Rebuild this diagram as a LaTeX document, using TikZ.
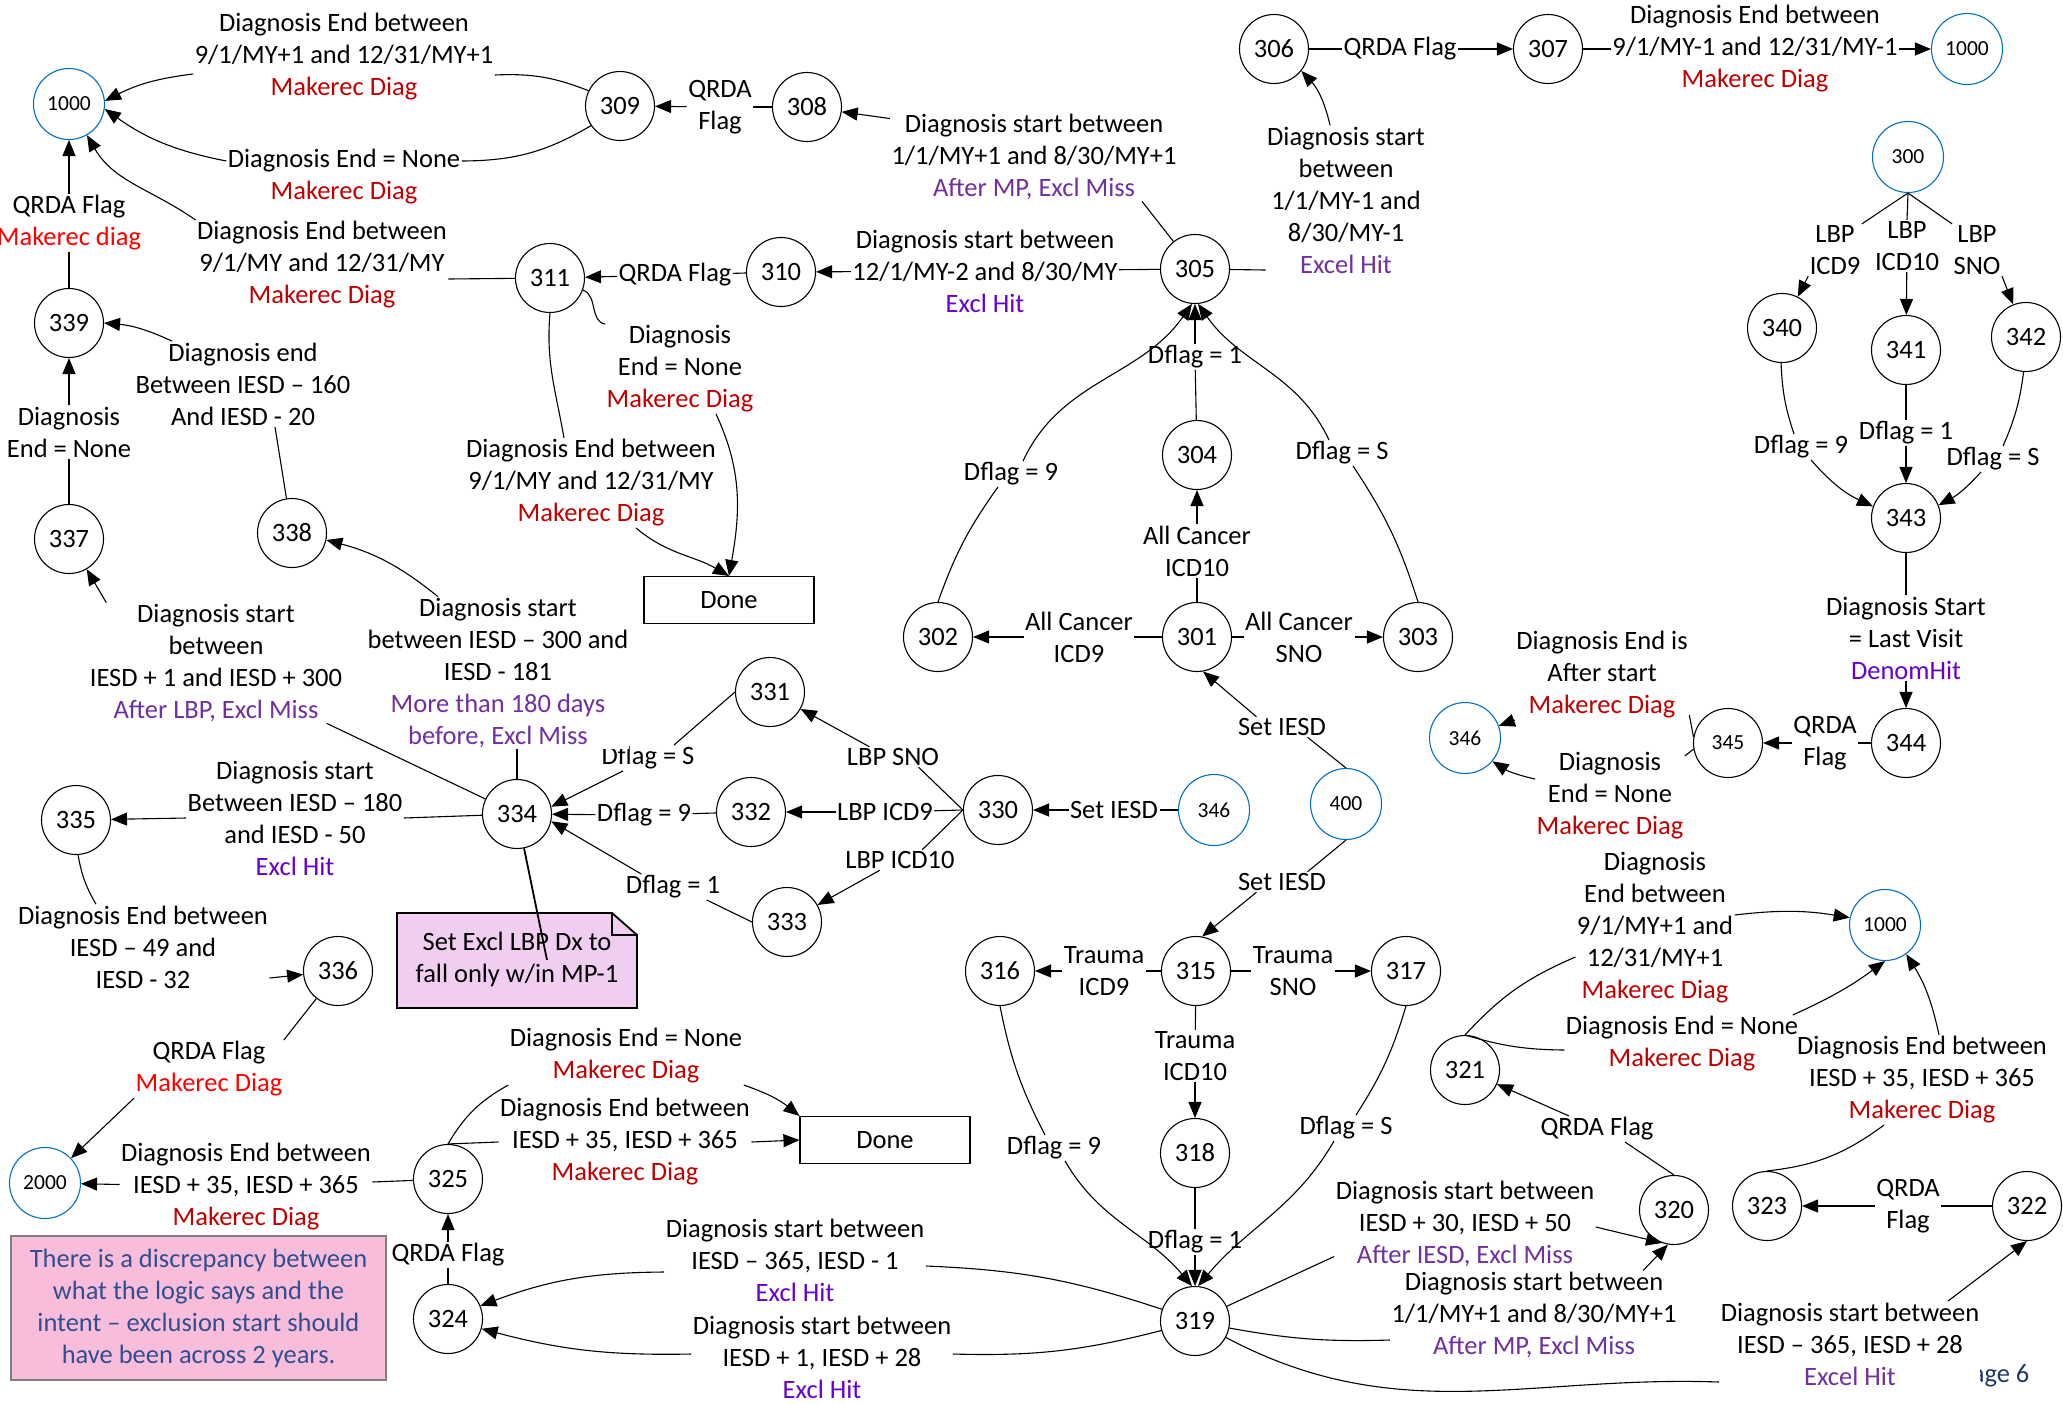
\documentclass[tikz,border=0pt]{standalone}
\usepackage{fontspec}
\setmainfont{Carlito}
\usetikzlibrary{arrows.meta}

\definecolor{mkred}{HTML}{C00000}
\definecolor{brightred}{HTML}{FF0000}
\definecolor{exmiss}{HTML}{7030A0}
\definecolor{exhit}{HTML}{6600CC}
\definecolor{stateblue}{HTML}{0070C0}
\definecolor{notepink}{HTML}{F9BDDC}
\definecolor{notelav}{HTML}{F0CEF0}
\definecolor{noteblue}{HTML}{2F4F8F}
\definecolor{pageblue}{HTML}{1F3864}

\newcommand{\lblsize}{\fontsize{26.5pt}{32pt}\selectfont}
\newcommand{\numsize}{\fontsize{21.5pt}{26pt}\selectfont}
\newcommand{\mkd}{\textcolor{mkred}{Makerec Diag}}
\newcommand{\exmiss}[1]{\textcolor{exmiss}{#1}}
\newcommand{\exhit}[1]{\textcolor{exhit}{#1}}

\tikzset{
  state/.style={circle, draw, minimum size=69pt, inner sep=0pt, font=\lblsize},
  bstate/.style={state, draw=stateblue, minimum size=71pt, font=\numsize},
  sstate/.style={state, font=\numsize},
  lbl/.style={align=center, fill=white, inner sep=1pt, font=\lblsize},
  donebox/.style={draw, minimum width=170pt, minimum height=47pt, font=\lblsize},
}

\begin{document}
\begin{tikzpicture}[x=1pt, y=-1pt, line width=1.1pt, >={Triangle[length=16pt,width=13pt]}]
\useasboundingbox (0,0) rectangle (2063,1403);

% states
\node[bstate] (n1000a) at (69,104) {1000};
\node[state] (n309) at (620,106) {309};
\node[state] (n308) at (807,107) {308};
\node[state] (n311) at (550,278) {311};
\node[state] (n310) at (781,272) {310};
\node[state] (n305) at (1195,269) {305};
\node[state] (n306) at (1274,49) {306};
\node[state] (n307) at (1548,49) {307};
\node[bstate] (n1000b) at (1967,49) {1000};
\node[bstate] (n300) at (1908,157) {300};
\node[state] (n340) at (1782,328) {340};
\node[state] (n341) at (1906,350) {341};
\node[state] (n342) at (2026,337) {342};
\node[state] (n343) at (1906,518) {343};
\node[state] (n344) at (1906,743) {344};
\node[sstate] (n345) at (1728,743) {345};
\node[bstate] (n346b) at (1465,738) {346};
\node[state] (n339) at (69,323) {339};
\node[state] (n337) at (69,539) {337};
\node[state] (n338) at (292,533) {338};
\node[state] (n304) at (1197,455) {304};
\node[state] (n301) at (1197,637) {301};
\node[state] (n302) at (938,637) {302};
\node[state] (n303) at (1418,637) {303};
\node[bstate] (n400) at (1346,804) {400};
\node[state] (n334) at (517,814) {334};
\node[state] (n335) at (76,820) {335};
\node[state] (n331) at (770,692) {331};
\node[state] (n332) at (751,812) {332};
\node[state] (n333) at (787,922) {333};
\node[state] (n330) at (998,810) {330};
\node[bstate] (n346a) at (1214,810) {346};
\node[state] (n336) at (338,971) {336};
\node[bstate] (n2000) at (45,1183) {2000};
\node[state] (n325) at (448,1179) {325};
\node[state] (n324) at (448,1319) {324};
\node[state] (n316) at (1000,971) {316};
\node[state] (n315) at (1196,971) {315};
\node[state] (n317) at (1406,971) {317};
\node[state] (n318) at (1195,1153) {318};
\node[state] (n319) at (1195,1321) {319};
\node[state] (n320) at (1674,1210) {320};
\node[state] (n321) at (1465,1070) {321};
\node[state] (n323) at (1767,1206) {323};
\node[state] (n322) at (2027,1206) {322};
\node[bstate] (n1000c) at (1885,925) {1000};

\node[donebox] (done1) at (729,600) {Done};
\node[donebox] (done2) at (885,1140) {Done};

% notes
\draw[fill=notelav, line width=1.8pt] (397,913) -- (612,913) -- (637,935) -- (637,1008) -- (397,1008) -- cycle;
\draw[line width=1.8pt] (612,913) -- (612,935) -- (637,935);
\node[align=center, font=\lblsize] (lbpnote) at (517,959) {Set Excl LBP Dx to\\fall only w/in MP-1};
\node[draw=gray, fill=notepink, minimum width=375pt, minimum height=144pt, align=center, text=noteblue, font=\lblsize] (discrep) at (198.5,1308) {There is a discrepancy between\\what the logic says and the\\intent – exclusion start should\\have been across 2 years.};
\node[text=pageblue, font=\lblsize, inner sep=0pt] (pg) at (1994,1376) {Page 6};

% edge texts
\node[lbl] (l309a) at (344,57) {Diagnosis End between\\9/1/MY+1 and 12/31/MY+1\\\mkd};
\node[lbl] (l309b) at (344,177) {Diagnosis End = None\\\mkd};
\node[lbl] (q308) at (720,107) {QRDA\\Flag};
\node[lbl] (l305a) at (1034,157) {Diagnosis start between\\1/1/MY+1 and 8/30/MY+1\\\exmiss{After MP, Excl Miss}};
\node[lbl] (l305b) at (985,271) {Diagnosis start between\\12/1/MY-2 and 8/30/MY\\\exhit{Excl Hit}};
\node[lbl] (q310) at (675,275) {QRDA Flag};
\node[lbl] (l311a) at (322,265) {Diagnosis End between\\9/1/MY and 12/31/MY\\\mkd};
\node[lbl] (q339) at (69,223) {QRDA Flag\\\textcolor{brightred}{Makerec diag}};
\node[lbl] (l337) at (69,432) {Diagnosis\\End = None};
\node[lbl] (l338a) at (243,384) {Diagnosis end\\Between IESD – 160\\And IESD - 20};
\node[lbl] (l311b) at (680,369) {Diagnosis\\End = None\\\mkd};
\node[lbl] (l311c) at (591,483) {Diagnosis End between\\9/1/MY and 12/31/MY\\\mkd};
\node[lbl] (l305c) at (1346,200) {Diagnosis start\\between\\1/1/MY-1 and\\8/30/MY-1\\\exmiss{Excel Hit}};
\node[lbl] (q306) at (1400,49) {QRDA Flag};
\node[lbl] (l307) at (1755,49) {Diagnosis End between\\9/1/MY-1 and 12/31/MY-1\\\mkd};
\node[lbl] (b300a) at (1835,250) {LBP\\ICD9};
\node[lbl] (b300b) at (1907,246) {LBP\\ICD10};
\node[lbl] (b300c) at (1977,250) {LBP\\SNO};
\node[lbl] (f340) at (1801,447) {Dflag = 9};
\node[lbl] (f341) at (1906,433) {Dflag = 1};
\node[lbl] (f342) at (1993,459) {Dflag = S};
\node[lbl] (l343) at (1906,638) {Diagnosis Start\\= Last Visit\\\exhit{DenomHit}};
\node[lbl] (q344) at (1825,743) {QRDA\\Flag};
\node[lbl] (l345a) at (1602,675) {Diagnosis End is\\After start\\\mkd};
\node[lbl] (l345b) at (1610,796) {Diagnosis\\End = None\\\mkd};
\node[lbl] (f302) at (1011,474) {Dflag = 9};
\node[lbl] (f304) at (1195,357) {Dflag = 1};
\node[lbl] (f303) at (1342,453) {Dflag = S};
\node[lbl] (c304) at (1197,551) {All Cancer\\ICD10};
\node[lbl] (c302) at (1079,637) {All Cancer\\ICD9};
\node[lbl] (c303) at (1299,637) {All Cancer\\SNO};
\node[lbl] (s301) at (1282,727) {Set IESD};
\node[lbl] (s315) at (1282,882) {Set IESD};
\node[lbl] (s330) at (1114,810) {Set IESD};
\node[lbl] (b331) at (893,757) {LBP SNO};
\node[lbl] (b332) at (885,812) {LBP ICD9};
\node[lbl] (b333) at (900,860) {LBP ICD10};
\node[lbl] (f331) at (648,758) {Dflag = S};
\node[lbl] (f332) at (644,815) {Dflag = 9};
\node[lbl] (f333) at (673,887) {Dflag = 1};
\node[lbl] (l337b) at (216,663) {Diagnosis start\\between\\IESD + 1 and IESD + 300\\\exmiss{After LBP, Excl Miss}};
\node[lbl] (l338b) at (498,673) {Diagnosis start\\between IESD – 300 and\\IESD - 181\\\exmiss{More than 180 days}\\\exmiss{before, Excl Miss}};
\node[lbl] (l335a) at (295,818) {Diagnosis start\\Between IESD – 180\\and IESD - 50\\\exhit{Excl Hit}};
\node[lbl] (l336) at (143,947) {Diagnosis End between\\IESD – 49 and\\IESD - 32};
\node[lbl] (q336) at (209,1069) {QRDA Flag\\\textcolor{brightred}{Makerec Diag}};
\node[lbl] (l2000) at (246,1187) {Diagnosis End between\\IESD + 35, IESD + 365\\\mkd};
\node[lbl] (q324) at (448,1255) {QRDA Flag};
\node[lbl] (l325a) at (626,1056) {Diagnosis End = None\\\mkd};
\node[lbl] (l325b) at (625,1142) {Diagnosis End between\\IESD + 35, IESD + 365\\\mkd};
\node[lbl] (l324a) at (795,1260) {Diagnosis start between\\IESD – 365, IESD - 1\\\exhit{Excl Hit}};
\node[lbl] (l324b) at (822,1357) {Diagnosis start between\\IESD + 1, IESD + 28\\\exhit{Excl Hit}};
\node[lbl] (t316) at (1104,971) {Trauma\\ICD9};
\node[lbl] (t317) at (1293,971) {Trauma\\SNO};
\node[lbl] (t318) at (1195,1056) {Trauma\\ICD10};
\node[lbl] (f316) at (1054,1148) {Dflag = 9};
\node[lbl] (f318) at (1195,1242) {Dflag = 1};
\node[lbl] (f317) at (1346,1128) {Dflag = S};
\node[lbl] (l320a) at (1465,1224) {Diagnosis start between\\IESD + 30, IESD + 50\\\exmiss{After IESD, Excl Miss}};
\node[lbl] (l320b) at (1534,1315) {Diagnosis start between\\1/1/MY+1 and 8/30/MY+1\\\exmiss{After MP, Excl Miss}};
\node[lbl] (l322) at (1850,1344) {Diagnosis start between\\IESD – 365, IESD + 28\\\exmiss{Excel Hit}};
\node[lbl] (q320) at (1597,1129) {QRDA Flag};
\node[lbl] (q322) at (1908,1206) {QRDA\\Flag};
\node[lbl] (l321a) at (1655,928) {Diagnosis\\End between\\9/1/MY+1 and\\12/31/MY+1\\\mkd};
\node[lbl] (l321b) at (1682,1044) {Diagnosis End = None\\\mkd};
\node[lbl] (l323) at (1922,1080) {Diagnosis End between\\IESD + 35, IESD + 365\\\mkd};

% top left
\draw (n309) to[bend right=12] ([yshift=-18pt]l309a.east);
\draw[->] ([yshift=-17pt]l309a.west) to[bend right=10] (n1000a.5);
\draw (n309) to[bend left=15] ([yshift=16pt]l309b.east);
\draw[->] ([yshift=16pt]l309b.west) to[bend left=12] (n1000a.-8);
\draw (n311) -- ([yshift=-14pt]l311a.east);
\draw[->] (l311a.north west) to[out=145, in=-60] (n1000a.-60);
\draw (n339) -- (q339);
\draw[->] (q339) -- (n1000a);
\draw (n337) -- (l337);
\draw[->] (l337) -- (n339);
\draw (n338) -- ([xshift=32pt]l338a.south);
\draw[->] ([xshift=38pt]l338a.north west) to[bend right=10] (n339);
\draw (n308) -- (q308);
\draw[->] (q308) -- (n309);
\draw (n305) -- ([xshift=-36pt]l305a.south east);
\draw[->] ([yshift=-6pt]l305a.north west) -- (n308);
\draw (n305) -- (l305b);
\draw[->] (l305b) -- (n310);
\draw (n310) -- (q310);
\draw[->] (q310) -- (n311);
\draw (n311) to[out=-20, in=170] (l311b.north west);
\draw[->] ([xshift=36pt]l311b.south) to[out=-65, in=80] (done1.north);
\draw (n311.south) to[out=-95, in=100] ([xshift=-27pt]l311c.north);
\draw[->] ([xshift=45pt]l311c.south) to[out=-40, in=150] (done1.north);

% top right
\draw (n305) -- ([yshift=-70pt]l305c.west);
\draw[->] ([xshift=-16pt]l305c.north) to[bend right=15] (n306);
\draw (n306) -- (q306);
\draw[->] (q306) -- (n307);
\draw (n307) -- (l307);
\draw[->] (l307) -- (n1000b);
\draw (n300.south) -- (b300a.north east);
\draw[->] (b300a.south west) -- (n340);
\draw (n300.south) -- (b300b.north);
\draw[->] (b300b) -- (n341);
\draw (n300.south) -- (b300c.north west);
\draw[->] (b300c.south east) -- (n342);
\draw (n340) to[bend right=8] ([xshift=-7pt]f340.north);
\draw[->] ([xshift=10pt]f340.south) to[bend right=12] (n343);
\draw (n341) -- (f341);
\draw[->] (f341) -- (n343);
\draw (n342) to[bend left=8] ([xshift=10pt]f342.north);
\draw[->] ([xshift=-12pt]f342.south) to[bend left=10] (n343);
\draw (n343) -- (l343);
\draw[->] (l343) -- (n344);
\draw (n344) -- (q344);
\draw[->] (q344) -- (n345);
\draw (n345.170) -- ([yshift=-40pt]l345a.east);
\draw[->] (l345a.south west) -- (n346b);
\draw (n345.190) -- ([yshift=40pt]l345b.east);
\draw[->] ([yshift=-28pt]l345b.north west) to[bend left=10] (n346b);

% cancer
\draw (n301) -- (c304);
\draw[->] (c304) -- (n304);
\draw (n301) -- (c302);
\draw[->] (c302) -- (n302);
\draw (n301) -- (c303);
\draw[->] (c303) -- (n303);
\draw (n302.north) to[bend left=8] ([xshift=-13pt]f302.south);
\draw[->] ([xshift=12pt]f302.north) to[out=65, in=-125] (n305.-95);
\draw (n304) -- (f304);
\draw[->] (f304) -- (n305);
\draw (n303.north) to[bend right=8] ([xshift=11pt]f303.south);
\draw[->] ([xshift=-13pt]f303.north) to[out=115, in=-55] (n305.-85);
\draw (n400.north) -- ([xshift=-20pt]s301.south east);
\draw[->] ([xshift=20pt]s301.north west) -- (n301.-80);
\draw (n400.south) -- ([xshift=-20pt]s315.north east);
\draw[->] ([xshift=20pt]s315.south west) -- (n315.80);

% LBP
\draw (n346a) -- (s330);
\draw[->] (s330) -- (n330);
\draw (n330.west) -- ([xshift=-22pt]b331.south east);
\draw[->] ([xshift=24pt]b331.north west) -- (n331);
\draw (n330.west) -- (b332);
\draw[->] (b332) -- (n332);
\draw (n330.west) -- ([xshift=-34pt]b333.north east);
\draw[->] ([xshift=36pt]b333.south west) -- (n333);
\draw (n331.west) -- ([xshift=-22pt]f331.north east);
\draw[->] ([xshift=23pt]f331.south west) -- (n334.12);
\draw (n332) -- (f332);
\draw[->] (f332) -- (n334);
\draw (n333.west) -- ([xshift=-15pt]f333.south east);
\draw[->] ([xshift=17pt]f333.north west) -- (n334.-12);
\draw (n334) -- ([xshift=-17pt]l337b.south east);
\draw[->] ([xshift=18pt]l337b.north west) -- (n337);
\draw (n334) -- ([xshift=19pt]l338b.south);
\draw[->] ([xshift=-60pt]l338b.north) to[bend right=12] (n338);
\draw (n334) -- (l335a.east);
\draw[->] (l335a.west) -- (n335);
\draw (n335) to[bend right=10] ([xshift=-47pt]l336.north);
\draw[->] ([yshift=-31pt]l336.east) -- (n336);
\draw (n336) -- (q336.north east);
\draw[->] (q336.south west) -- (n2000);
\coordinate (notetip) at (547,960);
\draw[line width=1.8pt] (n334) -- (notetip);

% bottom left
\draw (n325) -- (l2000);
\draw[->] (l2000) -- (n2000);
\draw (n324) -- (q324);
\draw[->] (q324) -- (n325);
\draw (n325.north) to[bend left=15] (l325a.south west);
\draw[->] (l325a.south east) to[bend left=10] (done2.north west);
\draw (n325.north) -- (l325b.west);
\draw[->] (l325b.east) -- (done2.west);
\draw (n319) to[bend right=8] ([yshift=-6pt]l324a.east);
\draw[->] ([yshift=-12pt]l324a.west) to[bend right=10] (n324);
\draw (n319) to[bend left=8] ([yshift=3pt]l324b.east);
\draw[->] ([yshift=3pt]l324b.west) to[bend left=8] (n324);

% trauma
\draw (n315) -- (t316);
\draw[->] (t316) -- (n316);
\draw (n315) -- (t317);
\draw[->] (t317) -- (n317);
\draw (n315) -- (t318);
\draw[->] (t318) -- (n318);
\draw (n316.south) to[bend right=8] ([xshift=-9pt]f316.north);
\draw[->] ([xshift=11pt]f316.south) to[out=-60, in=130] (n319.95);
\draw (n318) -- (f318);
\draw[->] (f318) -- (n319);
\draw (n317.south) to[bend left=8] ([xshift=10pt]f317.north);
\draw[->] ([xshift=-12pt]f317.south) to[out=-120, in=50] (n319.85);

% bottom right
\draw (n319) -- ([yshift=12pt]l320a.south west);
\draw[->] ([yshift=-3pt]l320a.east) -- (n320.-110);
\draw (n319) to[bend right=6] ([yshift=-25pt]l320b.west);
\draw[->] ([xshift=-35pt]l320b.north east) -- (n320.-100);
\draw (n319) to[out=-28, in=178] ([yshift=-38pt]l322.west);
\draw[->] ([xshift=-33pt]l322.north east) -- (n322.south);
\draw (n320.north) -- ([xshift=-30pt]q320.south east);
\draw[->] ([xshift=30pt]q320.north west) -- (n321);
\draw (n322) -- (q322);
\draw[->] (q322) -- (n323);
\draw (n321.north) to[bend left=12] ([yshift=-29pt]l321a.west);
\draw[->] ([yshift=13pt]l321a.east) to[bend left=8] (n1000c);
\draw (n321.north) to[bend right=8] ([yshift=-6pt]l321b.west);
\draw[->] ([xshift=-7pt]l321b.north east) to[bend right=6] (n1000c.south);
\draw (n323.north) to[bend right=15] ([xshift=-38pt]l323.south);
\draw[->] ([xshift=17pt]l323.north) to[bend right=10] (n1000c);
\end{tikzpicture}
\end{document}
